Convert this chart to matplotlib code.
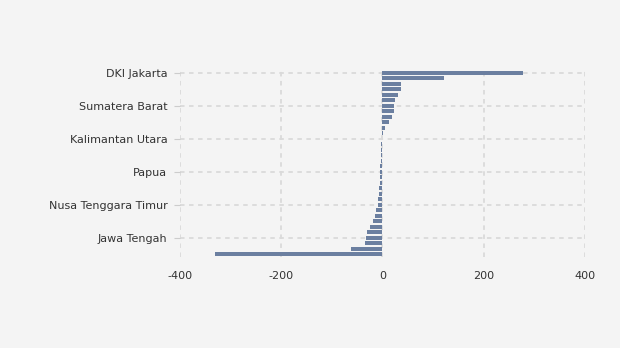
import numpy as np
import matplotlib.pyplot as plt

# provinsi, diurutkan dari nilai terbesar ke terkecil
provinsi = ['DKI Jakarta', 'Jawa Timur', 'Banten', 'Bali', 'Kalimantan Timur', 'Riau',
            'Sumatera Barat', 'Sulawesi Selatan', 'Kepulauan Riau', 'DI Yogyakarta',
            'Sumatera Utara', 'Kalimantan Selatan', 'Kalimantan Utara', 'Gorontalo',
            'Maluku Utara', 'Sulawesi Barat', 'Papua Barat', 'Bengkulu', 'Papua', 'Maluku',
            'Sulawesi Tenggara', 'Kalimantan Tengah', 'Jambi', 'Kepulauan Bangka Belitung',
            'Nusa Tenggara Timur', 'Sulawesi Utara', 'Sulawesi Tengah', 'Kalimantan Barat',
            'Nusa Tenggara Barat', 'Aceh', 'Jawa Tengah', 'Lampung', 'Sumatera Selatan',
            'Jawa Barat']
nilai = [278, 122, 37, 37, 31, 24, 22, 22, 18, 14, 6, 2, -1, -3, -3, -3, -3.5, -4,
         -4, -5, -5.5, -7, -7.5, -8, -8, -12, -14, -18, -24, -30, -32, -34, -61, -330]
label_tampil = [0, 6, 12, 18, 24, 30]
sumbu_x = [-400, -200, 0, 200, 400]

bg = '#f4f4f4'
fig = plt.figure(figsize=(6.2, 3.48), dpi=100, facecolor=bg)
ax = fig.add_axes([0.29, 0.2615, 0.6535, 0.5374], facecolor=bg)

y = np.arange(len(provinsi))
ax.barh(y, nilai, height=0.78, color='#6b7fa0', edgecolor='none', zorder=3)

ax.set_ylim(len(provinsi) - 0.5, -0.5)
ax.set_xlim(-400, 400)
ax.set_yticks(label_tampil)
ax.set_yticklabels([provinsi[i] for i in label_tampil])
ax.set_xticks(sumbu_x)
ax.set_xticklabels([str(v) for v in sumbu_x])

ax.grid(True, color='#dadada', linestyle=(0, (2.5, 2.5)), linewidth=1.3, zorder=0)
for s in ax.spines.values():
    s.set_visible(False)

ax.tick_params(axis='y', length=4, color='#cccccc', pad=5, labelsize=8, labelcolor='#333333')
ax.tick_params(axis='x', length=0, pad=10, labelsize=8, labelcolor='#333333')

fig.savefig('out.png', dpi=100, facecolor=bg)
